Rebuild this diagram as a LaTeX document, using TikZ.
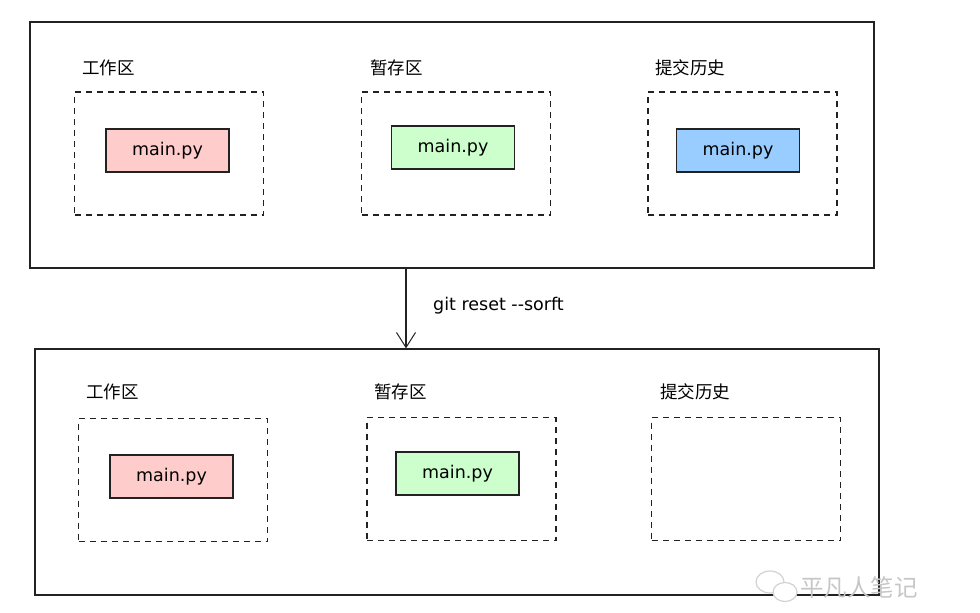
\documentclass[tikz,border=0pt]{standalone}
\usepackage{fontspec}
\setmainfont{DejaVu Sans}
\newfontfamily\cjk{Noto Sans CJK SC}
\usepackage{xcolor}
\usetikzlibrary{arrows.meta, positioning}
\definecolor{C_WORK}{HTML}{FFCCCC}
\definecolor{C_STAGE}{HTML}{CCFFCC}
\definecolor{C_COMMIT}{HTML}{99CCFF}
\definecolor{C_LINE}{HTML}{222222}
\tikzset{
  %% -- outer frame of one repository state --
  git/repo/.style={
    draw=C_LINE, line width=1.2pt, minimum width=844pt, minimum height=246pt,
    inner sep=0pt
  },
  %% -- dashed area (work tree, index, history) --
  git/area/.style={
    draw=C_LINE, line width=1.2pt, dash pattern=on 6pt off 5pt,
    minimum width=189pt, minimum height=123pt, inner sep=0pt
  },
  %% -- file box --
  git/file/.style={
    draw=C_LINE, line width=1.1pt, minimum width=123pt, minimum height=43pt,
    inner sep=0pt, font=\fontsize{17.5pt}{19pt}\selectfont
  },
  %% -- area caption --
  git/lbl/.style={font=\cjk\fontsize{17.5pt}{19pt}\selectfont, anchor=west, inner sep=0pt},
  %% -- command arrow --
  git/arr/.style={-{Straight Barb[length=15pt, width=19pt, line width=1pt]}, line width=1.1pt, color=C_LINE},
  %% -- watermark --
  git/wm/.style={draw=gray!35, line width=1.2pt, fill=white},
}
\begin{document}
\begin{tikzpicture}[x=1pt, y=-1pt]
\useasboundingbox (0,0) rectangle (980,613);
%% Before
\node[git/repo] (top) at (452, 145) {};
\node[git/area] (wt1) at (169, 153.5) {};
\node[git/area] (ix1) at (456, 153.5) {};
\node[git/area] (hs1) at (742.5, 153.5) {};
\node[git/lbl] (wtl1) at (82, 68) {工作区};
\node[git/lbl] (ixl1) at (370, 68) {暂存区};
\node[git/lbl] (hsl1) at (655, 68) {提交历史};
\node[git/file, fill=C_WORK]   (f1) at (167.5, 150.5) {main.py};
\node[git/file, fill=C_STAGE]  (f2) at (453, 147.5) {main.py};
\node[git/file, fill=C_COMMIT] (f3) at (738, 150.5) {main.py};

%% After
\node[git/repo] (bot) at (457, 472) {};
\node[git/area] (wt2) at (173, 480) {};
\node[git/area] (ix2) at (461.5, 479) {};
\node[git/area] (hs2) at (746, 479) {};
\node[git/lbl] (wtl2) at (86, 392) {工作区};
\node[git/lbl] (ixl2) at (374, 392) {暂存区};
\node[git/lbl] (hsl2) at (660, 392) {提交历史};
\node[git/file, fill=C_WORK]  (g1) at (171.5, 476.5) {main.py};
\node[git/file, fill=C_STAGE] (g2) at (457.5, 473.5) {main.py};

%% git reset
\coordinate (ax) at (406, 0);
\draw[git/arr] (top.south -| ax) -- (bot.north -| ax);
\node[font=\fontsize{17.5pt}{19pt}\selectfont, anchor=west, inner sep=0pt] (cmd) at (433, 306) {git reset -{}-sorft};

%% watermark
\draw[git/wm] (770, 582) ellipse (14pt and 11pt);
\draw[git/wm] (785, 592) ellipse (12pt and 9.5pt);
\node[font=\cjk\fontsize{23.5pt}{25pt}\selectfont, text=gray!45, anchor=west, inner sep=0pt] (wm) at (800, 588) {平凡人笔记};
\end{tikzpicture}
\end{document}
